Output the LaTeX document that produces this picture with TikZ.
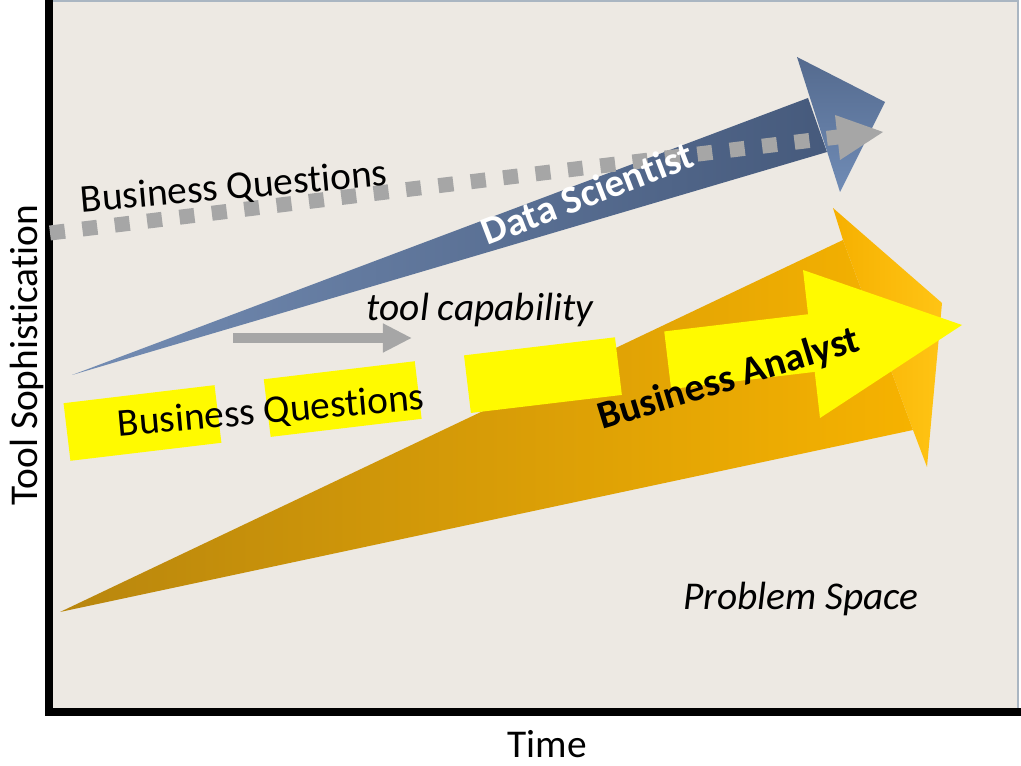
\documentclass[tikz,border=0pt]{standalone}
\usepackage{fontspec}
\setmainfont{Carlito}[Ligatures=CommonOff]
\usepackage{tikz}
\usetikzlibrary{arrows.meta}

\definecolor{paper}{RGB}{237,233,227}
\definecolor{paperedge}{RGB}{170,182,194}
\definecolor{dslight}{RGB}{116,141,180}
\definecolor{dsdark}{RGB}{70,90,124}
\definecolor{dsheadtop}{RGB}{84,106,142}
\definecolor{dsheadbot}{RGB}{112,140,182}
\definecolor{badark}{RGB}{184,134,14}
\definecolor{balight}{RGB}{246,178,0}
\definecolor{baheadl}{RGB}{246,176,0}
\definecolor{baheadr}{RGB}{255,196,20}
\definecolor{hlyellow}{RGB}{255,250,0}
\definecolor{qgray}{RGB}{166,166,166}

\begin{document}
\begin{tikzpicture}[x=0.025cm,y=-0.025cm]
    \tikzstyle{axis line}=[draw=black,line width=0.2cm]
    \tikzstyle{label text}=[inner sep=0pt,font=\fontsize{28}{34}\selectfont]
    \tikzstyle{bold label}=[label text,font=\fontsize{28}{34}\selectfont\bfseries]
    \tikzstyle{slanted label}=[label text,font=\fontsize{28}{34}\selectfont\itshape]
    \tikzstyle{question dots}=[draw=qgray,line width=0.375cm,dash pattern=on 0.375cm off 0.44cm]
    \tikzstyle{highlight band}=[draw=hlyellow,line width=1.45cm,dash pattern=on 3.8cm off 1.24cm]

    \useasboundingbox (0,0) rectangle (1021,766);

    % Draw the paper background
    \fill[white] (0,0) rectangle (1021,766);
    \fill[paper] (50,0) rectangle (1018,708);
    \draw[paperedge,line width=0.06cm] (50,1) -- (1018,1) -- (1018,708);

    % Draw the axes
    \draw[axis line] (49,0) -- (49,716);
    \draw[axis line] (45,712) -- (1021,712);

    % Business analyst arrow
    \shade[left color=badark,right color=balight] (60,612) -- (843,240) -- (913,430) -- cycle;
    \shade[left color=baheadl,right color=baheadr] (843,240) -- (833,208) -- (942,303) -- (927,467) -- (913,430) -- cycle;

    % Highlighted business questions
    \coordinate (hl-a) at (67,432);
    \coordinate (hl-b) at (812,343);
    \draw[highlight band] (hl-a) -- (hl-b);
    \fill[hlyellow] (803,270) -- (962,325) -- (820,418) -- cycle;
    \node[label text,rotate=5,anchor=base] (BQ-low) at (272,423) {Business Questions};
    \node[bold label,rotate=17,anchor=base] (BA) at (732,390) {Business Analyst};

    % Data scientist arrow
    \shade[left color=dslight,right color=dsdark] (72,375) -- (808,98) -- (827,152) -- cycle;
    \shade[top color=dsheadtop,bottom color=dsheadbot] (797,57) -- (885,102) -- (840,192) -- cycle;

    % Dotted business questions
    \coordinate (bq-a) at (50,233);
    \coordinate (bq-b) at (838,137);
    \draw[question dots] (bq-a) -- (bq-b);
    \fill[qgray] (835,115) -- (883,132) -- (840,160) -- cycle;
    \node[bold label,text=white,rotate=21,anchor=base] (DS) at (592,206) {Data Scientist};
    \node[label text,rotate=5,anchor=base] (BQ-top) at (235,199) {Business Questions};

    % Tool capability
    \coordinate (tc-a) at (233,338);
    \coordinate (tc-b) at (412,338);
    \draw[qgray,line width=0.25cm,-{Triangle[length=0.725cm,width=0.675cm]}] (tc-a) -- (tc-b);
    \node[slanted label,anchor=base] (TC) at (480,321) {tool capability};

    % Annotate the space and the axes
    \node[slanted label,anchor=base] (PS) at (801,610) {Problem Space};
    \node[label text,anchor=base] (time) at (547,758) {Time};
    \node[label text,rotate=90,anchor=base] (soph) at (37,355) {Tool Sophistication};
\end{tikzpicture}
\end{document}
